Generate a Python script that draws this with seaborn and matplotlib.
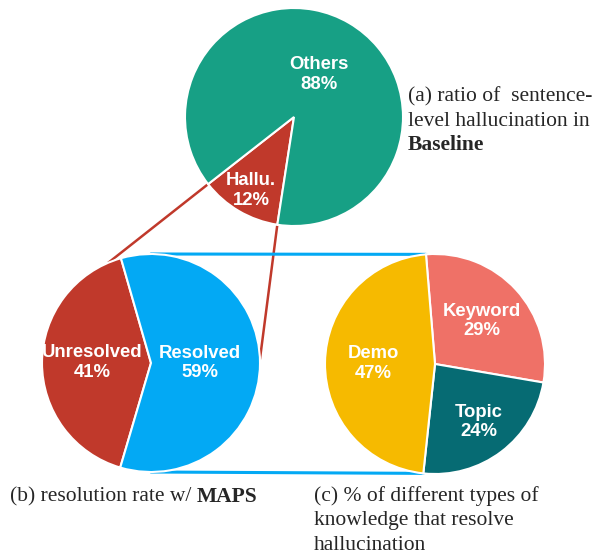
import numpy as np
import matplotlib.pyplot as plt
import seaborn as sns

# === Data ===
base_labels = ["Hallu.", "Others"]
base_values = [12, 88]
res_labels = ["Unresolved", "Resolved"]
res_values = [41, 59]
know_labels = ["Keyword", "Topic", "Demo"]
know_values = [29, 24, 47]

# colours
base_colors = ["#C0392B", "#17A085"]
res_colors = ["#C0392B", "#03A9F4"]
know_colors = ["#EF7167", "#066B73", "#F6BA00"]

sns.set_theme(style="white")
plt.rcParams['font.family'] = ['Liberation Sans', 'DejaVu Sans']

W, H = 602, 554
fig = plt.figure(figsize=(W / 100, H / 100), dpi=100)
ax = fig.add_axes([0, 0, 1, 1])


def py(y):
    # pixel row -> data y (y up)
    return H - y


def on_circle(c, r, deg):
    a = np.deg2rad(deg)
    return c[0] + r * np.cos(a), c[1] + r * np.sin(a)


def draw_pie(values, labels, colors, c, r, start, ccw, dists):
    wedges, _ = ax.pie(values, colors=colors, startangle=start, counterclock=ccw,
                       center=c, radius=r, frame=True,
                       wedgeprops=dict(edgecolor="white", linewidth=1.5, zorder=3))
    for w, lab, v, d in zip(wedges, labels, values, dists):
        mid = (w.theta1 + w.theta2) / 2
        x, y = on_circle(c, d * r, mid)
        ax.text(x, y, f"{lab}\n{v}%", ha="center", va="center", color="white",
                fontsize=13.3, fontweight="bold", linespacing=1.2, zorder=5)
    return wedges


# === Pies ===
top_c, top_r = (294, py(117)), 109
left_c, left_r = (151, py(363)), 109
right_c, right_r = (435, py(364)), 110

top_w = draw_pie(base_values, base_labels, base_colors, top_c, top_r,
                 218, True, [0.78, 0.45])
left_w = draw_pie(res_values, res_labels, res_colors, left_c, left_r,
                  106, True, [0.54, 0.45])
right_w = draw_pie(know_values, know_labels, know_colors, right_c, right_r,
                   94.7, False, [0.58, 0.66, 0.56])

# === Connector lines (behind the pies) ===
red = "#C0392B"
blue = "#03A9F4"
hallu = top_w[0]
p1 = on_circle(top_c, top_r, hallu.theta1)
q1 = on_circle(left_c, left_r, 113)
p2 = on_circle(top_c, top_r, hallu.theta2)
q2 = on_circle(left_c, left_r, 2)
ax.plot([p1[0], q1[0]], [p1[1], q1[1]], color=red, lw=1.8, zorder=1)
ax.plot([p2[0], q2[0]], [p2[1], q2[1]], color=red, lw=1.8, zorder=1)

b1 = on_circle(left_c, left_r, 90)
e1 = on_circle(right_c, right_r, right_w[0].theta2)
b2 = on_circle(left_c, left_r, 270)
e2 = on_circle(right_c, right_r, right_w[1].theta1)
ax.plot([b1[0], e1[0]], [b1[1], e1[1]], color=blue, lw=2.2, zorder=1)
ax.plot([b2[0], e2[0]], [b2[1], e2[1]], color=blue, lw=2.2, zorder=1)

ax.set_xlim(0, W)
ax.set_ylim(0, H)
ax.set_aspect("equal")
ax.axis("off")

# === Captions ===
serif = ["Liberation Serif", "DejaVu Serif"]
fs = 15.5


def caption(x, y, txt, bold=None):
    t = ax.text(x, py(y), txt, family=serif, fontsize=fs, ha="left", va="baseline")
    if bold:
        ax.annotate(bold, xy=(1, 0), xycoords=t, va="bottom", ha="left",
                    family=serif, fontsize=fs, fontweight="bold")
    return t


caption(408, 101.5, "(a) ratio of  sentence-")
caption(408, 126, "level hallucination in")
ax.text(408, py(150.5), "Baseline", family=serif, fontsize=fs, fontweight="bold",
        ha="left", va="baseline")

caption(9.5, 501.5, "(b) resolution rate w/ ", bold="MAPS")

caption(313.5, 501.5, "(c) % of different types of")
caption(313.5, 525.5, "knowledge that resolve")
caption(313.5, 549.5, "hallucination")

fig.savefig("out.png", dpi=100)
